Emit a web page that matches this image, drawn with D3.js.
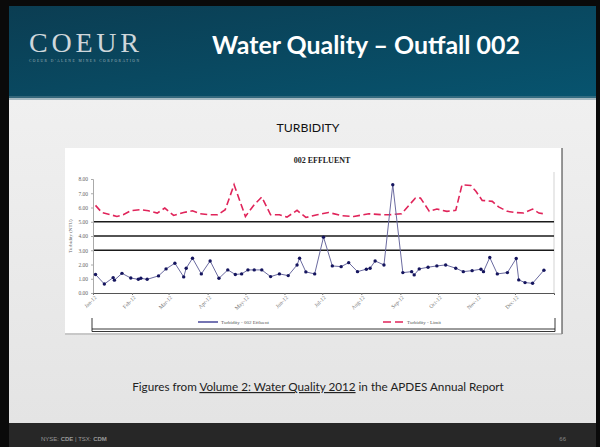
<!DOCTYPE html>
<html>
<head>
<meta charset="utf-8">
<script src="https://cdnjs.cloudflare.com/ajax/libs/d3/7.8.5/d3.min.js"></script>
<style>
  body { margin: 0; background: #000; }
  svg { display: block; }
</style>
</head>
<body>
<div id="slide"></div>
<script>
var W = 600, H = 447;

// x tick labels (one per month) and y ticks
var months = ["Jan-12", "Feb-12", "Mar-12", "Apr-12", "May-12", "Jun-12",
              "Jul-12", "Aug-12", "Sep-12", "Oct-12", "Nov-12", "Dec-12"];
var yTicks = [0, 1, 2, 3, 4, 5, 6, 7, 8];
var refLines = [3, 4, 5];

// Turbidity - 002 effluent (NTU), sample dates
var effluentDates = ["2012-01-03", "2012-01-10", "2012-01-17", "2012-01-18", "2012-01-24", "2012-01-31",
  "2012-02-06", "2012-02-08", "2012-02-13", "2012-02-22", "2012-02-28", "2012-03-06", "2012-03-13",
  "2012-03-15", "2012-03-20", "2012-03-27", "2012-04-03", "2012-04-10", "2012-04-17", "2012-04-23",
  "2012-04-28", "2012-05-03", "2012-05-08", "2012-05-14", "2012-05-21", "2012-05-28", "2012-06-04",
  "2012-06-11", "2012-06-13", "2012-06-18", "2012-06-25", "2012-07-02", "2012-07-09", "2012-07-16",
  "2012-07-22", "2012-07-29", "2012-08-05", "2012-08-08", "2012-08-12", "2012-08-19", "2012-08-26",
  "2012-09-03", "2012-09-10", "2012-09-12", "2012-09-16", "2012-09-23", "2012-09-30", "2012-10-07",
  "2012-10-15", "2012-10-21", "2012-10-28", "2012-11-04", "2012-11-06", "2012-11-11", "2012-11-17",
  "2012-11-25", "2012-12-02", "2012-12-04", "2012-12-09", "2012-12-15", "2012-12-24"];
var effluentValues = [1.30, 0.63, 1.08, 0.90, 1.38, 1.05,
  0.96, 1.03, 0.96, 1.20, 1.69, 2.09, 1.13,
  1.74, 2.44, 1.34, 2.25, 1.03, 1.62, 1.30,
  1.34, 1.62, 1.62, 1.62, 1.15, 1.34, 1.22,
  1.97, 2.44, 1.48, 1.34, 3.92, 1.90, 1.85,
  2.13, 1.50, 1.67, 1.74, 2.25, 1.97, 7.60,
  1.43, 1.50, 1.27, 1.69, 1.81, 1.90, 1.97,
  1.74, 1.50, 1.57, 1.67, 1.50, 2.49, 1.34,
  1.43, 2.42, 0.92, 0.73, 0.68, 1.60];

// Turbidity - limit (NTU)
var limitDates = ["2012-01-03", "2012-01-08", "2012-01-15", "2012-01-20", "2012-01-25", "2012-01-31",
  "2012-02-08", "2012-02-14", "2012-02-21", "2012-02-27", "2012-03-05", "2012-03-13", "2012-03-20",
  "2012-03-26", "2012-04-02", "2012-04-09", "2012-04-15", "2012-04-22", "2012-05-01", "2012-05-08",
  "2012-05-14", "2012-05-21", "2012-05-28", "2012-06-03", "2012-06-11", "2012-06-18", "2012-06-27",
  "2012-07-06", "2012-07-17", "2012-07-26", "2012-08-07", "2012-08-18", "2012-08-23", "2012-09-02",
  "2012-09-13", "2012-09-17", "2012-09-24", "2012-09-30", "2012-10-08", "2012-10-15", "2012-10-20",
  "2012-10-27", "2012-10-31", "2012-11-05", "2012-11-13", "2012-11-18", "2012-11-25", "2012-12-01",
  "2012-12-08", "2012-12-15", "2012-12-20", "2012-12-25"];
var limitValues = [6.15, 5.65, 5.49, 5.37, 5.49, 5.77,
  5.85, 5.77, 5.61, 5.96, 5.44, 5.65, 5.77,
  5.56, 5.49, 5.49, 5.85, 7.60, 5.37, 6.20,
  6.74, 5.49, 5.49, 5.33, 5.80, 5.30, 5.49,
  5.65, 5.42, 5.37, 5.56, 5.49, 5.49, 5.56,
  6.67, 6.67, 5.73, 5.89, 5.73, 5.80, 7.60,
  7.54, 7.14, 6.50, 6.43, 6.04, 5.73, 5.65,
  5.61, 5.89, 5.61, 5.55];

var parse = d3.timeParse("%Y-%m-%d");
var effluent = effluentDates.map(function(d, i) { return { date: parse(d), v: effluentValues[i] }; });
var limit = limitDates.map(function(d, i) { return { date: parse(d), v: limitValues[i] }; });

var svg = d3.select("#slide").append("svg").attr("width", W).attr("height", H);
var defs = svg.append("defs");

var hg = defs.append("linearGradient").attr("id", "hdr").attr("x1", 0).attr("y1", 0).attr("x2", 1).attr("y2", 1);
hg.append("stop").attr("offset", 0).attr("stop-color", "#0b3d52");
hg.append("stop").attr("offset", 1).attr("stop-color", "#07546f");
var bg = defs.append("linearGradient").attr("id", "body").attr("x1", 0).attr("y1", 0).attr("x2", 0).attr("y2", 1);
bg.append("stop").attr("offset", 0).attr("stop-color", "#f0f0f0");
bg.append("stop").attr("offset", 1).attr("stop-color", "#e4e4e4");

// slide frame
svg.append("rect").attr("width", W).attr("height", H).attr("fill", "#0a0a0a");
svg.append("rect").attr("x", 9).attr("y", 6).attr("width", 587).attr("height", 92).attr("fill", "url(#hdr)");
svg.append("rect").attr("x", 9).attr("y", 98).attr("width", 587).attr("height", 325).attr("fill", "url(#body)");
svg.append("rect").attr("x", 9).attr("y", 96).attr("width", 587).attr("height", 4).attr("fill", "#5d8494").attr("opacity", 0.5);
svg.append("rect").attr("x", 9).attr("y", 423).attr("width", 587).attr("height", 24).attr("fill", "#272727");

function fit(sel, width) {
  var len = sel.node().getComputedTextLength();
  sel.attr("font-size", parseFloat(sel.attr("font-size")) * width / len);
}

// logo
svg.append("text").attr("x", 29).attr("y", 52).attr("font-family", "Liberation Serif")
  .attr("font-size", 28).attr("fill", "#cfd7db").attr("textLength", 110)
  .attr("lengthAdjust", "spacing").text("COEUR");
svg.append("text").attr("x", 29).attr("y", 62).attr("font-family", "Liberation Serif")
  .attr("font-size", 3.6).attr("fill", "#9fb2ba").attr("textLength", 110)
  .attr("lengthAdjust", "spacing").text("COEUR D'ALENE MINES CORPORATION");

var title = svg.append("text").attr("x", 366).attr("y", 54).attr("text-anchor", "middle")
  .attr("font-family", "Lato").attr("font-weight", "bold").attr("font-size", 22)
  .attr("fill", "#ffffff").text("Water Quality \u2013 Outfall 002");
fit(title, 308);

var sub = svg.append("text").attr("x", 308).attr("y", 132).attr("text-anchor", "middle")
  .attr("font-family", "Lato").attr("font-size", 12).attr("fill", "#111").text("TURBIDITY");
fit(sub, 63);

var cap = svg.append("text").attr("x", 318).attr("y", 391).attr("text-anchor", "middle")
  .attr("font-family", "Lato").attr("font-size", 12).attr("fill", "#222");
cap.append("tspan").text("Figures from ");
cap.append("tspan").style("text-decoration", "underline").text("Volume 2: Water Quality 2012");
cap.append("tspan").text(" in the APDES Annual Report");
fit(cap, 372);

var foot = svg.append("text").attr("x", 41).attr("y", 441).attr("font-family", "Liberation Sans")
  .attr("font-size", 6).attr("fill", "#9a9a9a");
foot.append("tspan").text("NYSE: ");
foot.append("tspan").attr("font-weight", "bold").text("CDE");
foot.append("tspan").text("  |  TSX: ");
foot.append("tspan").attr("font-weight", "bold").text("CDM");
svg.append("text").attr("x", 566).attr("y", 441).attr("text-anchor", "end")
  .attr("font-family", "Liberation Sans").attr("font-size", 6).attr("fill", "#8a8a8a").text("66");

// chart panel
svg.append("rect").attr("x", 65).attr("y", 148).attr("width", 497).attr("height", 185).attr("fill", "#fff");
svg.append("line").attr("x1", 562).attr("x2", 562).attr("y1", 148).attr("y2", 334).attr("stroke", "#333").attr("stroke-width", 1);
svg.append("line").attr("x1", 65).attr("x2", 562).attr("y1", 334).attr("y2", 334).attr("stroke", "#999").attr("stroke-width", 0.8);

var x = d3.scaleTime().domain([new Date(2012, 0, 1), new Date(2013, 0, 1)]).range([93, 554]);
var y = d3.scaleLinear().domain([0, 8]).range([293, 179]);

var chart = svg.append("g");

chart.append("line").attr("x1", 554).attr("x2", 554).attr("y1", 172).attr("y2", 293)
  .attr("stroke", "#c8c8c8").attr("stroke-width", 0.8);

chart.selectAll("line.ref").data(refLines).enter().append("line").attr("class", "ref")
  .attr("x1", 93).attr("x2", 554).attr("y1", function(d) { return y(d); }).attr("y2", function(d) { return y(d); })
  .attr("stroke", "#1a1a1a").attr("stroke-width", 1.3);

var yAxis = chart.append("g").attr("transform", "translate(93,0)")
  .call(d3.axisLeft(y).tickValues(yTicks).tickFormat(d3.format(".2f")).tickSize(2).tickPadding(3));
yAxis.select(".domain").attr("stroke", "#aaa");
yAxis.selectAll(".tick line").attr("stroke", "#aaa");
yAxis.selectAll("text").attr("font-family", "Liberation Serif").attr("font-size", 5.5).attr("fill", "#666");

var xAxis = chart.append("g").attr("transform", "translate(0,293)")
  .call(d3.axisBottom(x).tickValues(months.map(function(m, i) { return new Date(2012, i, 1); }))
    .tickFormat(function(d, i) { return months[i]; }).tickSize(2));
xAxis.select(".domain").attr("stroke", "#555").attr("stroke-width", 1);
xAxis.selectAll(".tick line").attr("stroke", "#777");
xAxis.selectAll("text").attr("font-family", "Liberation Serif").attr("font-size", 5.5).attr("fill", "#777")
  .attr("text-anchor", "end").attr("x", -1).attr("y", 4).attr("dy", "0.35em")
  .attr("transform", "rotate(-45)");

chart.append("text").attr("transform", "translate(72,236) rotate(-90)").attr("text-anchor", "middle")
  .attr("font-family", "Liberation Serif").attr("font-size", 5).attr("fill", "#666").text("Turbidity (NTU)");

chart.append("text").attr("x", 322).attr("y", 163).attr("text-anchor", "middle")
  .attr("font-family", "Liberation Serif").attr("font-weight", "bold").attr("font-size", 8)
  .attr("fill", "#222").text("002 EFFLUENT");

var line = d3.line().x(function(d) { return x(d.date); }).y(function(d) { return y(d.v); });

chart.append("path").datum(limit).attr("d", line).attr("fill", "none")
  .attr("stroke", "#e0245a").attr("stroke-width", 1.6).attr("stroke-dasharray", "7,3.5");

chart.append("path").datum(effluent).attr("d", line).attr("fill", "none")
  .attr("stroke", "#6b6ba0").attr("stroke-width", 1);

chart.selectAll("circle.pt").data(effluent).enter().append("circle").attr("class", "pt")
  .attr("cx", function(d) { return x(d.date); }).attr("cy", function(d) { return y(d.v); })
  .attr("r", 1.7).attr("fill", "#15155e");

// legend
var lg = chart.append("g").attr("font-family", "Liberation Serif").attr("font-size", 5).attr("fill", "#555");
lg.append("line").attr("x1", 198).attr("x2", 218).attr("y1", 322).attr("y2", 322).attr("stroke", "#2a2a8a").attr("stroke-width", 1.3);
lg.append("text").attr("x", 221).attr("y", 323.8).text("Turbidity - 002 Effluent");
lg.append("line").attr("x1", 383).attr("x2", 405).attr("y1", 322).attr("y2", 322).attr("stroke", "#e0245a")
  .attr("stroke-width", 1.3).attr("stroke-dasharray", "8,4");
lg.append("text").attr("x", 407).attr("y", 323.8).text("Turbidity - Limit");

// bottom bracket frame
var br = chart.append("g").attr("stroke", "#222").attr("stroke-width", 0.9).attr("fill", "none");
br.append("line").attr("x1", 92).attr("x2", 555).attr("y1", 329).attr("y2", 329);
br.append("line").attr("x1", 92).attr("x2", 555).attr("y1", 331.5).attr("y2", 331.5);
br.append("line").attr("x1", 92).attr("x2", 92).attr("y1", 318).attr("y2", 331.5);
br.append("line").attr("x1", 555).attr("x2", 555).attr("y1", 318).attr("y2", 331.5);
</script>
</body>
</html>
